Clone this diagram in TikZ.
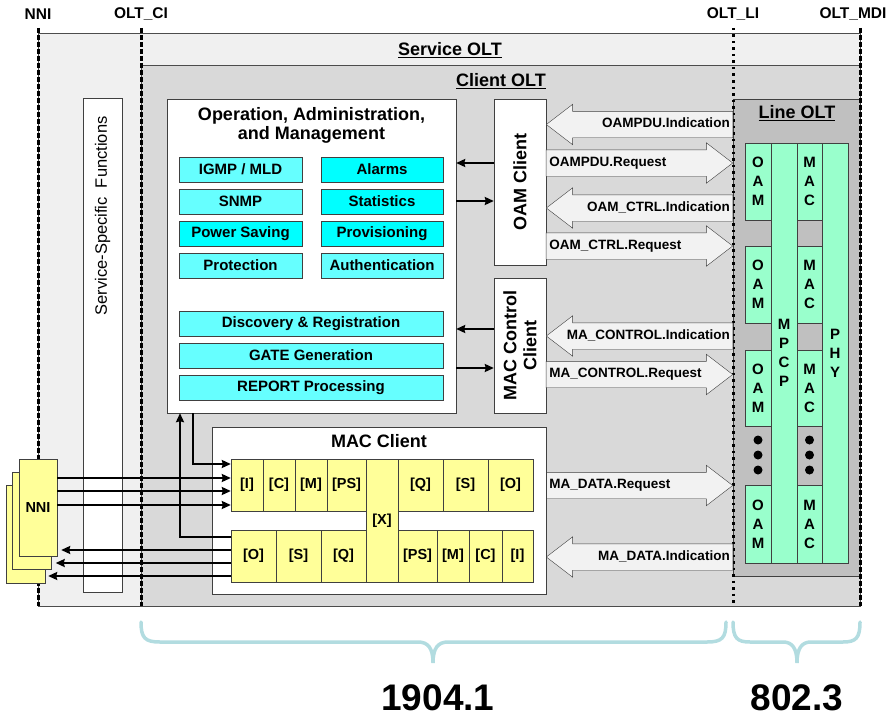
\documentclass[tikz,border=0pt]{standalone}
\usepackage{fontspec}
\setmainfont{Liberation Sans}
\usetikzlibrary{arrows.meta,shapes.arrows}

\definecolor{servgray}{RGB}{240,240,240}
\definecolor{clientgray}{RGB}{217,217,217}
\definecolor{linegray}{RGB}{192,192,192}
\definecolor{cyanlt}{RGB}{102,255,255}
\definecolor{cyandk}{RGB}{0,255,255}
\definecolor{cellyel}{RGB}{255,255,153}
\definecolor{lanegreen}{RGB}{153,255,204}
\definecolor{arrowgray}{RGB}{242,242,242}
\definecolor{bracecol}{RGB}{178,220,224}

\begin{document}
\begin{tikzpicture}[x=1pt, y=-1pt,
    region/.style={draw=black!70, line width=1pt, inner sep=0pt},
    box/.style={draw=black!75, fill=white, inner sep=0pt},
    fn/.style={draw=black!75, inner sep=0pt, minimum height=25pt, font=\bfseries\fontsize{15}{15}\selectfont},
    cell/.style={draw=black!75, fill=cellyel, inner sep=0pt, minimum height=52pt, font=\bfseries\fontsize{14.5}{15}\selectfont},
    lane/.style={draw=black!75, fill=lanegreen, inner sep=0pt, align=center, font=\bfseries\fontsize{15}{19}\selectfont},
    title/.style={font=\bfseries\fontsize{18}{19}\selectfont, align=center},
    vlabel/.style={rotate=90, align=center, font=\bfseries\fontsize{18}{20}\selectfont},
    iface/.style={font=\bfseries\fontsize{15.5}{16}\selectfont},
    blk/.style={single arrow, draw=black!75, fill=arrowgray, single arrow head extend=7pt,
        single arrow tip angle=75, text width=163pt, inner xsep=3pt, inner ysep=7pt,
        text height=9pt, text depth=3pt, anchor=tip, font=\bfseries\fontsize{13.5}{14}\selectfont},
    ind/.style={blk, shape border rotate=180, align=right},
    req/.style={blk, align=left},
    dashline/.style={line width=3pt, dash pattern=on 5pt off 2pt},
    dotline/.style={line width=3pt, dash pattern=on 2.5pt off 4pt},
    link/.style={-{Stealth[length=9pt,width=8pt,inset=1pt]}, line width=2pt},
    brace/.style={draw=bracecol, line width=3.5pt, line cap=round},
    big/.style={inner sep=0pt, font=\bfseries\fontsize{37}{37}\selectfont}
]
\useasboundingbox (0,0) rectangle (891,717);

% service and client areas
\node[region, fill=servgray, minimum width=822pt, minimum height=572pt] (service) at (449,320) {};
\node[region, fill=clientgray, minimum width=719pt, minimum height=540pt] (client) at (500.5,336) {};
\node[title] (servicetitle) at (450,50) {\underline{Service OLT}};
\node[title] (clienttitle) at (501,81) {\underline{Client OLT}};

% line OLT
\node[region, draw=black!75, fill=linegray, minimum width=127pt, minimum height=477pt] (line) at (796.5,337.5) {};
\node[title] (linetitle) at (797,113) {\underline{Line OLT}};

% interfaces
\node[iface] (nnilabel) at (38,14) {NNI};
\node[iface] (cilabel) at (141,14) {OLT\_CI};
\node[iface] (lilabel) at (733,14) {OLT\_LI};
\node[iface] (mdilabel) at (853,14) {OLT\_MDI};
\coordinate (nnitop) at (38,28);
\coordinate (nnibot) at (38,606);
\coordinate (citop) at (141,28);
\coordinate (cibot) at (141,606);
\coordinate (litop) at (733,28);
\coordinate (libot) at (733,606);
\coordinate (mditop) at (860,28);
\coordinate (mdibot) at (860,606);
\draw[dashline] (nnitop) -- (nnibot);
\draw[dashline] (citop) -- (cibot);
\draw[dotline] (litop) -- (libot);
\draw[dashline] (mditop) -- (mdibot);

% service specific functions
\node[box, minimum width=39pt, minimum height=494pt] (ssf) at (102.5,345) {};
\node[rotate=90, font=\fontsize{16.5}{17}\selectfont] (ssftext) at (102.5,216) {Service-Specific~~Functions};

% OAM
\node[box, minimum width=289pt, minimum height=314pt] (oam) at (311.5,256) {};
\node[title] (oamtitle) at (311.5,125) {Operation, Administration,\\and Management};
\node[fn, fill=cyanlt, minimum width=123pt] (igmp) at (240.5,169.5) {IGMP / MLD};
\node[fn, fill=cyanlt, minimum width=123pt] (snmp) at (240.5,201.5) {SNMP};
\node[fn, fill=cyandk, minimum width=123pt] (power) at (240.5,233.5) {Power Saving};
\node[fn, fill=cyanlt, minimum width=123pt] (protect) at (240.5,265.5) {Protection};
\node[fn, fill=cyandk, minimum width=122pt] (alarms) at (382,169.5) {Alarms};
\node[fn, fill=cyandk, minimum width=122pt] (stats) at (382,201.5) {Statistics};
\node[fn, fill=cyandk, minimum width=122pt] (prov) at (382,233.5) {Provisioning};
\node[fn, fill=cyanlt, minimum width=122pt] (auth) at (382,265.5) {Authentication};
\node[fn, fill=cyanlt, minimum width=264pt] (disc) at (311,323.5) {Discovery \& Registration};
\node[fn, fill=cyanlt, minimum width=264pt] (gate) at (311,355.5) {GATE Generation};
\node[fn, fill=cyanlt, minimum width=264pt] (report) at (311,387.5) {REPORT Processing};

% clients
\node[box, minimum width=52pt, minimum height=166pt] (oamcl) at (520,182) {};
\node[vlabel] (oamcltext) at (oamcl) {OAM Client};
\node[box, minimum width=52pt, minimum height=135pt] (macctl) at (520,345.5) {};
\node[vlabel] (macctltext) at (macctl) {MAC Control\\Client};

% service primitives
\node[ind] (oampduind) at (546,124.5) {OAMPDU.Indication};
\node[req] (oampdureq) at (733,163) {OAMPDU.Request};
\node[ind] (oamctrlind) at (546,208) {OAM\_CTRL.Indication};
\node[req] (oamctrlreq) at (733,246) {OAM\_CTRL.Request};
\node[ind] (mactrlind) at (546,336) {MA\_CONTROL.Indication};
\node[req] (mactrlreq) at (733,374.5) {MA\_CONTROL.Request};
\node[req] (madatareq) at (733,485.5) {MA\_DATA.Request};
\node[ind] (madataind) at (546,557) {MA\_DATA.Indication};

% line OLT sublayers
\node[lane, minimum width=26pt, minimum height=420pt] (mpcp) at (784,353) {M\\P\\C\\P};
\node[lane, minimum width=26pt, minimum height=420pt] (phy) at (835,353) {P\\H\\Y};
\node[lane, minimum width=26pt, minimum height=77pt] (oama) at (758,181.5) {O\\A\\M};
\node[lane, minimum width=26pt, minimum height=77pt] (oamb) at (758,284.5) {O\\A\\M};
\node[lane, minimum width=26pt, minimum height=76pt] (oamc) at (758,388) {O\\A\\M};
\node[lane, minimum width=26pt, minimum height=78pt] (oamd) at (758,524) {O\\A\\M};
\node[lane, minimum width=25pt, minimum height=77pt] (maca) at (809.5,181.5) {M\\A\\C};
\node[lane, minimum width=25pt, minimum height=77pt] (macb) at (809.5,284.5) {M\\A\\C};
\node[lane, minimum width=25pt, minimum height=76pt] (macc) at (809.5,388) {M\\A\\C};
\node[lane, minimum width=25pt, minimum height=78pt] (macd) at (809.5,524) {M\\A\\C};
\fill (758,440) circle (4.5pt) (758,455) circle (4.5pt) (758,470) circle (4.5pt);
\fill (809.5,440) circle (4.5pt) (809.5,455) circle (4.5pt) (809.5,470) circle (4.5pt);

% MAC client
\node[box, minimum width=334pt, minimum height=167pt] (macclient) at (379,510.5) {};
\node[title] (macclienttitle) at (379,441) {MAC Client};
\node[cell, minimum width=32pt] (ti) at (247,485) {[I]};
\node[cell, minimum width=32pt] (tc) at (279,485) {[C]};
\node[cell, minimum width=32pt] (tm) at (311,485) {[M]};
\node[cell, minimum width=39pt] (tps) at (346.5,485) {[PS]};
\node[cell, minimum width=45pt] (tq) at (420.5,485) {[Q]};
\node[cell, minimum width=45pt] (ts) at (465.5,485) {[S]};
\node[cell, minimum width=45pt] (to) at (510.5,485) {[O]};
\node[cell, minimum width=32pt, minimum height=123pt] (x) at (382,520.5) {[X]};
\node[cell, minimum width=45pt] (bo) at (253.5,556) {[O]};
\node[cell, minimum width=45pt] (bs) at (298.5,556) {[S]};
\node[cell, minimum width=45pt] (bq) at (343.5,556) {[Q]};
\node[cell, minimum width=39pt] (bps) at (417.5,556) {[PS]};
\node[cell, minimum width=32pt] (bm) at (453,556) {[M]};
\node[cell, minimum width=33pt] (bc) at (485.5,556) {[C]};
\node[cell, minimum width=31pt] (bi) at (517.5,556) {[I]};

% NNI ports
\node[cell, minimum width=39pt, minimum height=98pt] (nnic) at (25.5,534) {};
\node[cell, minimum width=39pt, minimum height=97pt] (nnib) at (32,520.5) {};
\node[cell, minimum width=38pt, minimum height=97pt] (nnia) at (38,507.5) {NNI};

% OAM and control links
\draw[link] ([yshift=19pt]oamcl.west) -- ([yshift=19pt]oamcl.west -| oam.east);
\draw[link] ([yshift=-19pt]oamcl.west -| oam.east) -- ([yshift=-19pt]oamcl.west);
\draw[link] ([yshift=16.5pt]macctl.west) -- ([yshift=16.5pt]macctl.west -| oam.east);
\draw[link] ([yshift=-22.5pt]macctl.west -| oam.east) -- ([yshift=-22.5pt]macctl.west);
\draw[link] ([xshift=-118.5pt]oam.south) |- ([yshift=21pt]ti.west);
\draw[link] ([yshift=19pt]bo.west) -| ([xshift=-131.5pt]oam.south);

% NNI data links
\draw[link] ([yshift=29.5pt]nnia.east) -- ([yshift=29.5pt]nnia.east -| ti.west);
\draw[link] ([yshift=16.5pt]nnia.east) -- ([yshift=16.5pt]nnia.east -| ti.west);
\draw[link] ([yshift=2.5pt]nnia.east) -- ([yshift=2.5pt]nnia.east -| ti.west);
\draw[link, shorten >=4pt] ([yshift=6pt]bo.west) -- ([yshift=6pt]bo.west -| nnia.east);
\draw[link, shorten >=4pt] ([yshift=-7pt]bo.west) -- ([yshift=-7pt]bo.west -| nnib.east);
\draw[link, shorten >=3pt] ([yshift=-20pt]bo.west) -- ([yshift=-20pt]bo.west -| nnic.east);

% standards
\draw[brace] (141,622) .. controls (141,638) and (145,642) .. (160,642) -- (418,642)
    .. controls (428,642) and (433,648) .. (433,663) .. controls (433,648) and (438,642) .. (448,642)
    -- (707,642) .. controls (722,642) and (726,638) .. (726,622);
\draw[brace] (733,622) .. controls (733,638) and (737,642) .. (750,642) -- (783,642)
    .. controls (792,642) and (797,648) .. (797,663) .. controls (797,648) and (802,642) .. (811,642)
    -- (843,642) .. controls (856,642) and (860,638) .. (860,622);
\node[big] (ieee1904) at (438,698) {1904.1};
\node[big] (ieee802) at (797,698) {802.3};
\end{tikzpicture}
\end{document}
